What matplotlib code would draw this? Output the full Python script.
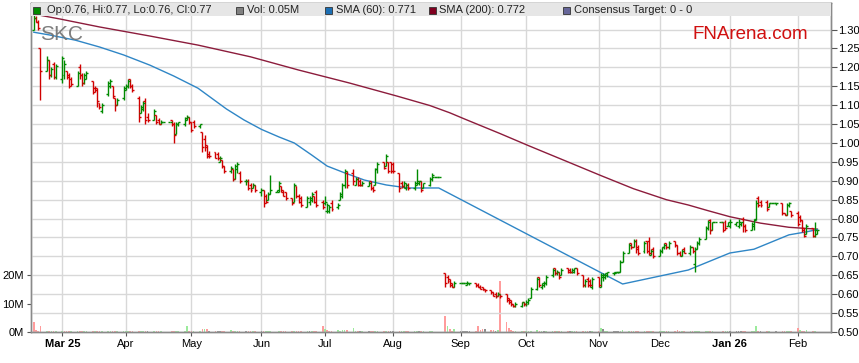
import numpy as np
import pandas as pd
import matplotlib
matplotlib.use('Agg')
import matplotlib.pyplot as plt
import matplotlib.dates as mdates
from matplotlib.patches import Rectangle

plt.rcParams['font.family'] = ['Liberation Sans', 'DejaVu Sans']

# daily OHLC in cents, one row per week (18 Feb 2025 - 11 Feb 2026)
opens = [
    130, 133, 132, 125,
    119, 122, 118, 121, 117.5,
    117, 118, 119, 118, 117,
    115, 120, 118, 116, 117,
    116.5, 114.5, 114.5, 110.5, 108.5,
    113, 115, 115, 112, 110,
    112, 114, 115, 117, 115,
    112, 108, 109, 111, 107,
    106, 107.5, 106, 105, 105.5,
    105.5, 106, 105, 102.5, 105,
    105, 106, 107, 105.5, 105.5,
    104.5, 103, 101, 99, 97,
    97.5, 97, 95, 95.5, 94,
    92.5, 93, 90.5, 93, 92,
    90, 90, 89, 88, 89,
    87, 87.5, 86, 85, 86.5,
    87, 87, 88.5, 87.5, 87,
    85.5, 84.5, 88.5, 86, 85.5,
    83, 84.5, 85, 86, 87,
    84.5, 84, 82, 82, 84,
    83, 85, 86, 89, 92,
    92, 89, 90.5, 90, 89,
    88.5, 90, 88, 89, 93,
    95, 94, 95, 95, 94.5,
    92, 89.5, 88.5, 88, 89,
    88, 89, 89.5, 90, 88,
    89, 90.5, 91, 91, 91,
    65.5, 64.5, 64, 63, 62,
    63, 63, 63, 62.5, 63,
    63, 62.5, 62, 62, 61.5,
    61, 60.5, 60, 59.5, 60,
    60, 59, 58.5, 57.5, 57,
    57, 58, 57.5, 57.5, 59,
    61.5, 64.5, 62, 62.5, 63,
    65, 67, 65.5, 66, 65,
    67, 66.5, 66, 66, 67,
    65, 62.5, 64, 63.5, 62,
    64.5, 62, 64.5, 64.5, 65,
    65.5, 65.5, 66, 66, 68.5,
    71, 73.5, 72.5, 74, 72.5,
    71.5, 74, 74, 70.5, 72,
    70, 71.5, 72.5, 73.5, 72.5,
    74, 73, 71, 70, 72,
    71, 72.5, 68, 72, 73.5,
    74.5, 77.5, 79.5, 77, 79,
    79, 79, 79, 78, 78,
    78.5, 78, 78.5, 80, 78,
    77, 78, 80, 85.5, 84.5,
    84.5, 83, 84, 84, 84,
    84, 81.5, 81, 83.5, 82,
    81.5, 80.5, 79.5, 77.5, 76,
    77.5, 75.5, 76,
]
highs = [
    134, 133.5, 132.5, 125,
    123, 122, 120, 121.5, 121,
    123, 122, 119, 118.5, 117.5,
    119, 121, 118.5, 118.5, 119,
    116.5, 115, 114.5, 110.5, 110.5,
    116.5, 117, 115, 112, 112,
    115, 115.5, 117, 117, 115.5,
    112.5, 110, 111, 112, 108,
    109, 107.5, 106.5, 106, 105.5,
    105.5, 106, 105.5, 105.5, 105.5,
    107, 107.5, 107, 105.5, 106,
    105, 103, 102, 99.5, 98,
    97.5, 97.5, 96.5, 95.5, 94,
    94, 93, 94.5, 95, 92.5,
    90.5, 90.5, 89.5, 89.5, 89,
    88, 87.5, 86.5, 87, 91.5,
    87.5, 90, 88.5, 87.5, 87,
    85.5, 89.5, 88.5, 86.5, 86,
    86, 86, 87, 86, 87.5,
    85, 86, 84, 83.5, 85,
    84, 87, 89.5, 93, 92.5,
    93, 91, 91, 90.5, 90,
    90, 90, 88.5, 93.5, 95,
    95, 97, 95, 95, 95,
    92, 90, 90, 89.5, 89.5,
    90, 93, 90, 90, 89.5,
    91, 92, 91, 91, 91,
    65.5, 65, 64, 63, 63.5,
    63, 63, 63, 63.5, 63,
    63, 63, 62.5, 62, 61.5,
    61, 60.5, 60.5, 60.5, 60,
    60, 59, 58.5, 57.5, 58,
    58, 58, 58.5, 59, 62,
    64.5, 64.5, 63, 63.5, 65,
    67, 67, 66.5, 66, 67,
    67, 67, 67, 67, 67,
    65, 64, 64.5, 64, 64.5,
    64.5, 65.5, 65.5, 65.5, 66,
    66, 66, 66, 69, 71.5,
    73.5, 73.5, 74.5, 74.5, 73,
    74, 74, 75, 72, 72.5,
    72, 72.5, 73.5, 73.5, 74,
    74, 73, 71.5, 72, 72.5,
    73, 72.5, 72.5, 74, 75,
    78, 79.5, 80, 79, 79,
    79, 79, 79.5, 79, 80,
    79, 80, 79, 80.5, 78.5,
    79, 80, 85, 86, 85,
    85, 84, 84, 84, 84,
    84, 81.5, 84, 84.5, 82,
    82, 81, 79.5, 77.5, 78.5,
    77.5, 79, 77,
]
lows = [
    130, 132, 130, 111.5,
    119, 117, 117.5, 117, 117,
    116, 117, 117, 114.5, 115,
    115, 117, 115, 115.5, 117,
    113, 113.5, 109.5, 109, 108,
    112.5, 114.5, 112, 108.5, 110,
    111.5, 114, 114.5, 114.5, 113.5,
    105.5, 108, 108.5, 105, 105.5,
    106, 105, 105, 105, 105.5,
    105.5, 104.5, 100, 102.5, 104.5,
    104.5, 106, 105, 103, 104,
    104, 97.5, 98, 96, 96,
    96, 95.5, 95, 93.5, 92,
    92, 90, 90.5, 92, 89.5,
    89, 87.5, 87, 88, 87,
    86, 83, 84, 85, 86.5,
    87, 87, 87, 86, 85,
    83.5, 84.5, 85.5, 84, 83,
    83, 83.5, 84.5, 84, 83,
    82.5, 83.5, 81.5, 81.5, 82,
    82.5, 85, 85.5, 88, 88,
    89, 89, 88.5, 88.5, 88.5,
    88.5, 87.5, 87, 89, 92,
    93, 94, 92, 92, 92,
    87, 88, 88, 87.5, 87.5,
    87.5, 89, 89, 87, 88,
    88.5, 90, 91, 91, 91,
    62, 63, 62, 62, 62,
    63, 63, 63, 62.5, 62.5,
    62, 62, 61.5, 61, 60.5,
    60, 59.5, 59, 59.5, 59,
    58, 57.5, 57, 56.5, 56.5,
    56.5, 57, 57, 57.5, 59,
    61, 62, 61.5, 62, 62.5,
    64.5, 65, 65, 64, 65,
    65.5, 65.5, 65.5, 65.5, 65,
    62, 62, 62, 62, 61.5,
    62, 62, 63.5, 64, 64.5,
    65, 65.5, 65.5, 66, 68.5,
    71, 72, 72.5, 71, 70.5,
    71, 71, 70.5, 70.5, 69.5,
    70, 71, 72, 72, 72,
    72.5, 70.5, 70, 70, 71,
    70.5, 71, 66, 72, 73,
    74.5, 77, 76, 77, 79,
    79, 76.5, 77, 78, 77.5,
    78, 77.5, 78, 76.5, 76.5,
    77, 77, 79.5, 83, 83,
    82, 83, 84, 84, 83.5,
    81, 81, 81, 83, 80.5,
    78, 79, 76.5, 75, 76,
    75, 75, 76,
]
closes = [
    133, 132, 130.5, 119,
    122, 118, 119.5, 117.5, 120.5,
    122.5, 121, 117.5, 115, 115.5,
    118.5, 118, 116, 118, 118.5,
    113.5, 114, 111, 109.5, 110,
    116, 116.5, 112.5, 110, 111.5,
    114.5, 115, 116.5, 115, 114,
    107, 109.5, 110.5, 106, 106,
    108.5, 105.5, 105, 105.5, 105.5,
    105.5, 105, 102, 105, 105.5,
    106.5, 107, 105.5, 103.5, 104.5,
    105, 99, 99.5, 96.5, 96.5,
    96, 96, 96, 94, 92.5,
    93.5, 90.5, 94, 94.5, 90,
    90, 88, 87.5, 89, 87.5,
    87.5, 84, 84.5, 86.5, 87.5,
    87.5, 89.5, 87, 86, 85.5,
    84, 89, 86, 84.5, 83.5,
    85.5, 85.5, 86.5, 84.5, 83.5,
    83, 84.5, 83.5, 83, 82.5,
    83.5, 86.5, 89, 92.5, 89,
    90, 90.5, 89, 89, 89.5,
    89.5, 88, 87.5, 93, 94.5,
    93.5, 96.5, 92.5, 92.5, 92.5,
    88, 88.5, 89.5, 89, 88,
    89.5, 90, 90, 87.5, 89.5,
    90.5, 91.5, 91, 91, 91,
    63, 63.5, 62.5, 62, 63,
    63, 63, 63, 63, 63,
    62.5, 62, 61.5, 61, 61,
    60.5, 59.5, 59.5, 60, 59.5,
    58.5, 58, 57.5, 57, 57.5,
    58, 57.5, 58, 58.5, 61.5,
    64, 62.5, 63, 63, 64.5,
    66.5, 65.5, 66, 64.5, 66.5,
    66, 66, 66.5, 67, 65.5,
    62.5, 63.5, 62.5, 62.5, 64,
    62.5, 65, 65, 65.5, 66,
    66, 66, 66, 68.5, 71,
    73, 72.5, 74, 72, 71,
    73.5, 71.5, 71, 71.5, 70,
    71.5, 72.5, 73, 72.5, 73.5,
    73, 71, 70.5, 71.5, 71,
    72.5, 71.5, 72, 73.5, 74.5,
    77.5, 79, 77, 79, 79,
    79, 77, 77.5, 79, 79,
    79, 79, 79, 78, 77,
    78.5, 79.5, 84, 83.5, 83.5,
    82.5, 84, 84, 84, 84,
    81.5, 81, 83.5, 84, 81,
    78.5, 79.5, 77, 75.5, 78,
    75.5, 77, 77,
]
# volume in millions of shares
volume = [
    3.5, 0.6, 0.4, 2.0,
    0.5, 0.4, 0.3, 0.3, 0.4,
    0.3, 0.3, 0.3, 0.4, 0.3,
    0.2, 0.3, 0.3, 0.2, 0.3,
    0.2, 0.3, 0.4, 0.3, 0.2,
    0.3, 0.2, 0.3, 0.3, 0.2,
    0.2, 0.4, 0.2, 0.3, 0.3,
    0.4, 0.3, 0.3, 0.4, 0.2,
    0.2, 0.3, 0.2, 0.2, 0.0,
    0.0, 0.3, 0.5, 0.4, 0.3,
    0.3, 2.0, 0.4, 0.3, 0.3,
    0.3, 1.0, 1.0, 0.9, 0.3,
    0.3, 0.3, 0.2, 0.3, 0.4,
    0.8, 0.3, 0.4, 0.3, 0.3,
    0.2, 0.3, 0.3, 0.2, 0.3,
    0.3, 0.4, 0.3, 0.2, 0.3,
    0.0, 0.3, 0.2, 0.3, 0.3,
    0.3, 0.4, 0.3, 0.3, 0.4,
    0.3, 0.3, 0.4, 0.3, 0.5,
    2.0, 1.0, 0.8, 0.4, 0.3,
    0.6, 0.4, 0.8, 0.8, 0.6,
    1.4, 0.3, 0.3, 0.3, 0.3,
    0.3, 0.2, 0.3, 0.3, 0.2,
    0.2, 0.3, 0.3, 0.2, 0.3,
    0.3, 0.2, 0.3, 0.2, 0.3,
    0.2, 0.3, 0.2, 0.3, 0.2,
    0.3, 0.2, 0.0, 0.0, 0.0,
    5.6, 2.0, 1.2, 0.5, 1.0,
    0.3, 0.3, 0.3, 0.5, 0.4,
    0.5, 2.0, 0.8, 1.2, 1.0,
    0.8, 0.6, 0.5, 0.6, 18.0,
    3.5, 1.5, 0.8, 0.5, 0.4,
    0.4, 0.5, 0.3, 0.4, 0.5,
    0.6, 0.5, 0.4, 0.4, 0.5,
    0.4, 0.3, 0.3, 0.4, 0.3,
    0.3, 0.4, 0.3, 0.3, 0.3,
    0.3, 0.3, 0.4, 0.3, 0.3,
    0.4, 1.5, 0.9, 0.5, 0.4,
    0.3, 0.3, 0.2, 0.5, 0.6,
    0.4, 0.3, 0.3, 0.3, 0.4,
    0.3, 0.3, 0.3, 0.2, 0.3,
    0.3, 0.2, 0.3, 0.2, 0.3,
    0.3, 0.6, 0.3, 0.3, 0.3,
    0.3, 0.3, 0.5, 0.3, 0.3,
    0.4, 0.3, 0.3, 0.2, 0.0,
    0.0, 0.3, 0.3, 0.2, 0.3,
    0.2, 0.3, 0.2, 0.3, 0.3,
    0.3, 0.3, 2.0, 0.5, 0.4,
    0.5, 0.3, 0.0, 0.0, 0.2,
    0.4, 0.3, 0.4, 0.3, 0.4,
    1.5, 0.6, 0.5, 0.4, 0.6,
    0.4, 0.5, 0.05,
]
prev_close = 136

sma60_dates = ['2025-02-18', '2025-02-25', '2025-03-09', '2025-03-20', '2025-03-31',
               '2025-04-12', '2025-04-23', '2025-05-04', '2025-05-17', '2025-05-25',
               '2025-06-02', '2025-06-10', '2025-06-17', '2025-06-25', '2025-07-02',
               '2025-07-10', '2025-07-19', '2025-07-29', '2025-08-08', '2025-08-22',
               '2025-11-14', '2025-12-14', '2026-01-02', '2026-01-13', '2026-01-29',
               '2026-02-06', '2026-02-11']
sma60_vals = [1.293, 1.286, 1.272, 1.254, 1.233, 1.206, 1.177, 1.145, 1.090, 1.061,
              1.036, 1.016, 1.000, 0.968, 0.939, 0.921, 0.902, 0.889, 0.881, 0.881,
              0.627, 0.664, 0.709, 0.719, 0.757, 0.765, 0.771]
sma200_dates = ['2025-02-18', '2025-03-02', '2025-03-20', '2025-04-12', '2025-05-04',
                '2025-05-28', '2025-06-19', '2025-07-12', '2025-08-03', '2025-08-18',
                '2025-08-27', '2025-09-03', '2025-09-19', '2025-10-02', '2025-10-20',
                '2025-11-04', '2025-11-19', '2025-12-04', '2025-12-14', '2025-12-23',
                '2026-01-02', '2026-01-16', '2026-01-29', '2026-02-11']
sma200_vals = [1.341, 1.328, 1.307, 1.283, 1.259, 1.228, 1.193, 1.159, 1.124, 1.099,
               1.080, 1.063, 1.025, 0.993, 0.950, 0.914, 0.879, 0.850, 0.836, 0.821,
               0.805, 0.788, 0.777, 0.772]

tick_dates = ['2025-03-03', '2025-04-01', '2025-05-01', '2025-06-02', '2025-07-01',
              '2025-08-01', '2025-09-01', '2025-10-01', '2025-11-03', '2025-12-01',
              '2026-01-02', '2026-02-02']
tick_labels = ['Mar 25', 'Apr', 'May', 'Jun', 'Jul', 'Aug', 'Sep', 'Oct', 'Nov', 'Dec',
               'Jan 26', 'Feb']
price_ticks = np.arange(0.50, 1.301, 0.05)

dates = pd.bdate_range('2025-02-18', '2026-02-11')
x = mdates.date2num(dates)
o = np.array(opens) / 100
h = np.array(highs) / 100
l = np.array(lows) / 100
c = np.array(closes) / 100
v = np.array(volume) * 1e6

W, H = 859, 363
fig = plt.figure(figsize=(W / 100, H / 100), dpi=100)
ax = fig.add_axes([31 / W, 31 / H, 800 / W, 329 / H])
axp = ax.twinx()

GREEN = '#008a00'
RED = '#d00000'

# volume (left axis)
pc = np.concatenate([[prev_close / 100], c[:-1]])
vcol = np.where(c > pc, '#9ceb9c', np.where(c < pc, '#ff9c9c', '#8c8c8c'))
ax.bar(x, v, width=0.75, color=vcol, linewidth=0, zorder=2)
ax.set_ylim(0, 20e6 * 329 / 57)
ax.set_yticks([0, 10e6, 20e6])
ax.set_yticklabels(['0M', '10M', '20M'])

# price bars (right axis)
col = np.where(c < o, RED, GREEN)
axp.vlines(x, l, h, colors=col, linewidth=1.0, zorder=4)
axp.hlines(o, x - 0.9, x, colors=col, linewidth=1.0, zorder=4)
axp.hlines(c, x, x + 0.9, colors=col, linewidth=1.0, zorder=4)

axp.plot(mdates.date2num(pd.to_datetime(sma200_dates)), sma200_vals,
         color='#8c1c3c', linewidth=1.0, zorder=3)
axp.plot(mdates.date2num(pd.to_datetime(sma60_dates)), sma60_vals,
         color='#2f86c6', linewidth=1.0, zorder=3)

axp.set_ylim(0.50, 0.50 + 329 / 378)
axp.set_yticks(price_ticks)
axp.set_yticklabels(['%.2f' % t for t in price_ticks])
axp.grid(axis='y', color='#d8d8d8', linewidth=1.0, zorder=0)

ax.set_xlim(mdates.date2num(pd.Timestamp('2025-02-16 17:00')),
            mdates.date2num(pd.Timestamp('2026-02-17 05:00')))
tx = mdates.date2num(pd.to_datetime(tick_dates))
ax.set_xticks(tx)
ax.set_xticklabels(tick_labels)
for lab in ax.get_xticklabels():
    if lab.get_text() in ('Mar 25', 'Jan 26'):
        lab.set_fontweight('bold')
ax.grid(axis='x', color='#d8d8d8', linewidth=1.0, zorder=0)
ax.set_axisbelow(True)

for a in (ax, axp):
    for s in a.spines.values():
        s.set_color('#8a8a8a')
        s.set_linewidth(1.0)
ax.tick_params(axis='x', length=3, pad=2, labelsize=8, color='#555555')
ax.tick_params(axis='y', length=3, pad=2, labelsize=8, color='#555555')
axp.tick_params(axis='y', length=4, pad=1, labelsize=8, color='#555555')

# watermark texts
axp.text((40 - 31) / 800, 1 - 37 / 329, 'SKC', transform=axp.transAxes, fontsize=15,
         color='#707070', alpha=0.9, va='baseline', ha='left', zorder=5)
axp.text((808 - 31) / 800, 1 - 36 / 329, 'FNArena.com', transform=axp.transAxes,
         fontsize=13.5, color='#d01010', va='baseline', ha='right', zorder=5)

# legend band at top of the plot
axp.add_patch(Rectangle((0, 1 - 13 / 329), 1, 13 / 329, transform=axp.transAxes,
                        facecolor='#e6e6e6', edgecolor='none', zorder=6))
legend_items = [
    (33, GREEN, 'Op:0.76, Hi:0.77, Lo:0.76, Cl:0.77', 47),
    (236, '#808080', 'Vol: 0.05M', 247),
    (325, '#1c6fb4', 'SMA (60): 0.771', 336),
    (429, '#800020', 'SMA (200): 0.772', 439),
    (563, '#666699', 'Consensus Target: 0 - 0', 574),
]
for sx, scol, label, tx0 in legend_items:
    fig.patches.append(Rectangle((sx / W, 1 - 14 / H), 7 / W, 7 / H,
                                 transform=fig.transFigure, facecolor=scol,
                                 edgecolor='#333333', linewidth=0.6, zorder=7))
    fig.text(tx0 / W, 1 - 10 / H, label, fontsize=8, color='#222222',
             va='center', ha='left', zorder=7)

fig.savefig('out.png', dpi=100)
